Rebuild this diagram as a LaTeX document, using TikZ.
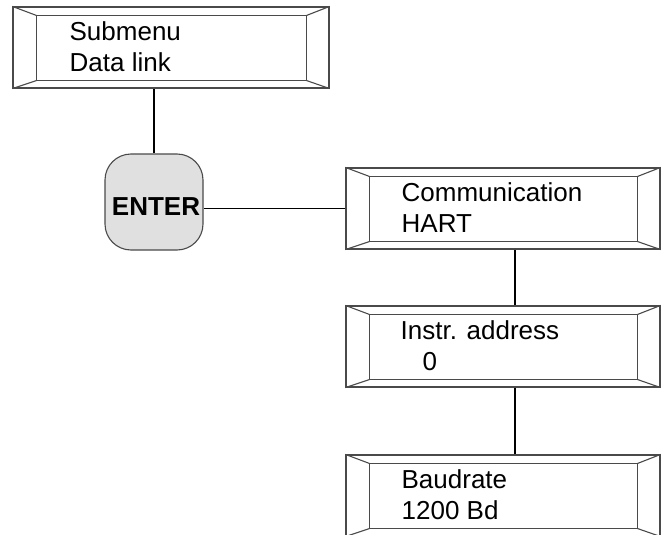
\documentclass[tikz,border=0pt]{standalone}
\usepackage{fontspec}
\setmainfont{Liberation Sans}
\usepackage{tikz}
\usetikzlibrary{calc}
\definecolor{rahmen}{HTML}{4A4A4A}
\definecolor{tasteGrau}{HTML}{E0E0E0}
% inner frame and bevel corners of a display box
\newcommand{\bevelbox}[1]{%
  \draw[rahmen,line width=1.1pt] ([shift={(24,9)}]#1.north west) rectangle ([shift={(-23,-8)}]#1.south east);
  \draw[rahmen,line width=1.1pt] (#1.north west)--([shift={(24,9)}]#1.north west);
  \draw[rahmen,line width=1.1pt] (#1.south west)--([shift={(24,-8)}]#1.south west);
  \draw[rahmen,line width=1.1pt] (#1.north east)--([shift={(-23,9)}]#1.north east);
  \draw[rahmen,line width=1.1pt] (#1.south east)--([shift={(-23,-8)}]#1.south east);
}

\begin{document}
\begin{tikzpicture}[x=1pt,y=-1pt,
  anzeige/.style={draw=rahmen,line width=1.1pt,minimum height=81pt,inner sep=0pt},
  anztext/.style={anchor=north west,inner sep=0pt,align=left,font=\fontsize{26}{31}\selectfont},
  taste/.style={draw=rahmen,line width=1.1pt,fill=tasteGrau,rounded corners=26pt,minimum width=98pt,minimum height=96pt,inner sep=0pt},
  linie/.style={line width=1.6pt}]
\useasboundingbox[fill=white] (0,0) rectangle (661,535);
\node[anzeige,minimum width=316pt] (sub) at (171,47.5) {};
\bevelbox{sub}
\node[anztext] (subtxt) at ([shift={(57,12)}]sub.north west) {\strut Submenu\\Data link};
\node[taste] (enter) at (154,202) {};
\node[font=\fontsize{26}{30}\selectfont\bfseries,inner sep=0pt] (entertxt) at (156,207) {ENTER};
\node[anzeige,minimum width=314pt] (comm) at (503,208.5) {};
\bevelbox{comm}
\node[anztext] (commtxt) at ([shift={(56,12)}]comm.north west) {\strut Communication\\HART};
\node[anzeige,minimum width=314pt] (addr) at (503,346.5) {};
\bevelbox{addr}
\node[anztext] (addrtxt) at ([shift={(55,12)}]addr.north west) {\strut Instr. address\\\hspace*{22pt}0};
\node[anzeige,minimum width=314pt] (baud) at (503,495.5) {};
\bevelbox{baud}
\node[anztext] (baudtxt) at ([shift={(56,12)}]baud.north west) {\strut Baudrate\\1200 Bd};
% connectors
\draw[linie] (enter.north)--(enter.north |- sub.south);
\draw[linie] (comm.west)--(comm.west -| enter.east);
\draw[linie] ([xshift=12pt]comm.south)--([xshift=12pt]addr.north);
\draw[linie] ([xshift=12pt]addr.south)--([xshift=12pt]baud.north);
\end{tikzpicture}
\end{document}
